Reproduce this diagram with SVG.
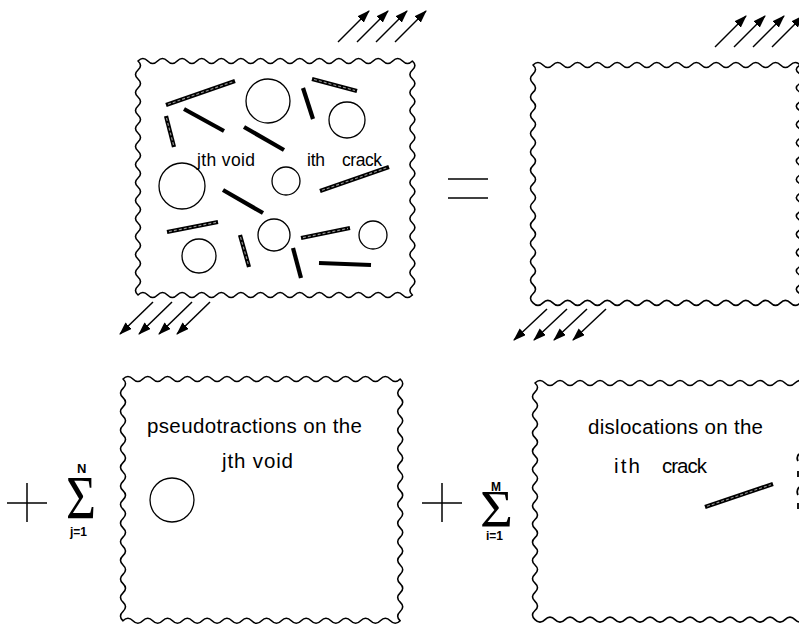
<svg xmlns="http://www.w3.org/2000/svg" width="799" height="627" viewBox="0 0 799 627">
<style>
.wave{fill:none;stroke:#000;stroke-width:1.6;stroke-linejoin:round}
.void{fill:none;stroke:#000;stroke-width:1.3}
.crk{stroke:#000;stroke-width:4.2;stroke-linecap:butt}
.hol{stroke:#999;stroke-width:1.1;stroke-dasharray:3 2}
.arr{stroke:#000;stroke-width:1.5;marker-end:url(#ah)}
.lbl{font-family:"Liberation Sans",Arial,sans-serif;fill:#000}
.sym{stroke:#000;stroke-width:1.5;fill:none}
.sig{font-family:"Liberation Serif","Times New Roman",serif;font-weight:normal}
.lim{font-family:"Liberation Sans",Arial,sans-serif;font-weight:bold}
</style>
<defs>
<marker id="ah" markerUnits="userSpaceOnUse" markerWidth="14" markerHeight="10" refX="12" refY="4.5" orient="auto">
<path d="M0,0 L13,4.5 L0,9 Z" fill="#000"/>
</marker>
</defs>

<g id="box1">
<path class="wave" d="M138,61 q4.9,-5 9.8,0 t9.8,0 t9.8,0 t9.8,0 t9.8,0 t9.8,0 t9.8,0 t9.8,0 t9.8,0 t9.8,0 t9.8,0 t9.8,0 t9.8,0 t9.8,0 t9.8,0 t9.8,0 t9.8,0 t9.8,0 t9.8,0 t9.8,0 t9.8,0 t9.8,0 t9.8,0 t9.8,0 t9.8,0 t9.8,0 t9.8,0 t9.8,0 q5,4.5 0,9 t0,9 t0,9 t0,9 t0,9 t0,9 t0,9 t0,9 t0,9 t0,9 t0,9 t0,9 t0,9 t0,9 t0,9 t0,9 t0,9 t0,9 t0,9 t0,9 t0,9 t0,9 t0,9 t0,9 t0,9 t0,9 q-4.9,5 -9.8,0 t-9.8,0 t-9.8,0 t-9.8,0 t-9.8,0 t-9.8,0 t-9.8,0 t-9.8,0 t-9.8,0 t-9.8,0 t-9.8,0 t-9.8,0 t-9.8,0 t-9.8,0 t-9.8,0 t-9.8,0 t-9.8,0 t-9.8,0 t-9.8,0 t-9.8,0 t-9.8,0 t-9.8,0 t-9.8,0 t-9.8,0 t-9.8,0 t-9.8,0 t-9.8,0 t-9.8,0 q-5,-4.5 0,-9 t0,-9 t0,-9 t0,-9 t0,-9 t0,-9 t0,-9 t0,-9 t0,-9 t0,-9 t0,-9 t0,-9 t0,-9 t0,-9 t0,-9 t0,-9 t0,-9 t0,-9 t0,-9 t0,-9 t0,-9 t0,-9 t0,-9 t0,-9 t0,-9 t0,-9 Z"/>
<circle class="void" cx="268" cy="101" r="22"/>
<circle class="void" cx="347" cy="120" r="18"/>
<circle class="void" cx="182" cy="186" r="23"/>
<circle class="void" cx="286" cy="181" r="14"/>
<circle class="void" cx="274" cy="235" r="16"/>
<circle class="void" cx="199" cy="256" r="17"/>
<circle class="void" cx="373" cy="235" r="14"/>
<line class="crk" x1="166" y1="105" x2="235" y2="81"/><line class="hol" x1="168" y1="104.3" x2="233" y2="81.7"/>
<line class="crk" x1="312" y1="79" x2="357" y2="91"/><line class="hol" x1="314" y1="79.5" x2="355" y2="90.5"/>
<line class="crk" x1="303" y1="88" x2="313" y2="119"/>
<line class="crk" x1="184" y1="109" x2="224" y2="131"/>
<line class="crk" x1="166" y1="116" x2="174" y2="147"/><line class="hol" x1="166.5" y1="118" x2="173.5" y2="145"/>
<line class="crk" x1="244" y1="127" x2="284" y2="150"/>
<line class="crk" x1="320" y1="191" x2="389" y2="167"/><line class="hol" x1="322" y1="190.3" x2="387" y2="167.7"/>
<line class="crk" x1="223" y1="190" x2="263" y2="213"/>
<line class="crk" x1="167" y1="232" x2="218" y2="222"/><line class="hol" x1="169" y1="231.6" x2="216" y2="222.4"/>
<line class="crk" x1="240" y1="235" x2="249" y2="267"/><line class="hol" x1="240.5" y1="237" x2="248.5" y2="265"/>
<line class="crk" x1="301" y1="238" x2="350" y2="228"/><line class="hol" x1="303" y1="237.6" x2="348" y2="228.4"/>
<line class="crk" x1="293" y1="248" x2="301" y2="278"/>
<line class="crk" x1="319" y1="263" x2="371" y2="265"/>
<text class="lbl" x="197" y="166" font-size="17.5" textLength="58">jth void</text>
<text class="lbl" x="307" y="166" font-size="17.5" textLength="18">ith</text>
<text class="lbl" x="342" y="166" font-size="17.5" textLength="40">crack</text>
</g>

<g id="equals">
<line class="sym" x1="448" y1="179" x2="488" y2="179"/>
<line class="sym" x1="448" y1="198" x2="488" y2="198"/>
</g>

<g id="box2">
<path class="wave" d="M533,65 q4.95,-5 9.9,0 t9.9,0 t9.9,0 t9.9,0 t9.9,0 t9.9,0 t9.9,0 t9.9,0 t9.9,0 t9.9,0 t9.9,0 t9.9,0 t9.9,0 t9.9,0 t9.9,0 t9.9,0 t9.9,0 t9.9,0 t9.9,0 t9.9,0 t9.9,0 t9.9,0 t9.9,0 t9.9,0 t9.9,0 t9.9,0 t9.9,0 q-8,4.6 0,9.15 t0,9.15 t0,9.15 t0,9.15 t0,9.15 t0,9.15 t0,9.15 t0,9.15 t0,9.15 t0,9.15 t0,9.15 t0,9.15 t0,9.15 t0,9.15 t0,9.15 t0,9.15 t0,9.15 t0,9.15 t0,9.15 t0,9.15 t0,9.15 t0,9.15 t0,9.15 t0,9.15 t0,9.15 t0,9.15 q-4.95,5 -9.9,0 t-9.9,0 t-9.9,0 t-9.9,0 t-9.9,0 t-9.9,0 t-9.9,0 t-9.9,0 t-9.9,0 t-9.9,0 t-9.9,0 t-9.9,0 t-9.9,0 t-9.9,0 t-9.9,0 t-9.9,0 t-9.9,0 t-9.9,0 t-9.9,0 t-9.9,0 t-9.9,0 t-9.9,0 t-9.9,0 t-9.9,0 t-9.9,0 t-9.9,0 t-9.9,0 q-5,-4.6 0,-9.15 t0,-9.15 t0,-9.15 t0,-9.15 t0,-9.15 t0,-9.15 t0,-9.15 t0,-9.15 t0,-9.15 t0,-9.15 t0,-9.15 t0,-9.15 t0,-9.15 t0,-9.15 t0,-9.15 t0,-9.15 t0,-9.15 t0,-9.15 t0,-9.15 t0,-9.15 t0,-9.15 t0,-9.15 t0,-9.15 t0,-9.15 t0,-9.15 t0,-9.15 Z"/>
</g>

<g id="plus1">
<line class="sym" x1="7" y1="503" x2="47" y2="503"/>
<line class="sym" x1="27" y1="483" x2="27" y2="522"/>
<text fill="#000"><tspan class="lim" x="77" y="473" font-size="13">N</tspan><tspan class="sig" x="66" y="518" font-size="62" textLength="30" lengthAdjust="spacingAndGlyphs">Σ</tspan><tspan class="lim" x="70" y="536" font-size="12">j=1</tspan></text>
</g>

<g id="box3">
<path class="wave" d="M123,379 q4.95,-5 9.9,0 t9.9,0 t9.9,0 t9.9,0 t9.9,0 t9.9,0 t9.9,0 t9.9,0 t9.9,0 t9.9,0 t9.9,0 t9.9,0 t9.9,0 t9.9,0 t9.9,0 t9.9,0 t9.9,0 t9.9,0 t9.9,0 t9.9,0 t9.9,0 t9.9,0 t9.9,0 t9.9,0 t9.9,0 t9.9,0 t9.9,0 t9.9,0 q5,4.65 0,9.3 t0,9.3 t0,9.3 t0,9.3 t0,9.3 t0,9.3 t0,9.3 t0,9.3 t0,9.3 t0,9.3 t0,9.3 t0,9.3 t0,9.3 t0,9.3 t0,9.3 t0,9.3 t0,9.3 t0,9.3 t0,9.3 t0,9.3 t0,9.3 t0,9.3 t0,9.3 t0,9.3 t0,9.3 t0,9.3 q-4.95,5 -9.9,0 t-9.9,0 t-9.9,0 t-9.9,0 t-9.9,0 t-9.9,0 t-9.9,0 t-9.9,0 t-9.9,0 t-9.9,0 t-9.9,0 t-9.9,0 t-9.9,0 t-9.9,0 t-9.9,0 t-9.9,0 t-9.9,0 t-9.9,0 t-9.9,0 t-9.9,0 t-9.9,0 t-9.9,0 t-9.9,0 t-9.9,0 t-9.9,0 t-9.9,0 t-9.9,0 t-9.9,0 q-5,-4.65 0,-9.3 t0,-9.3 t0,-9.3 t0,-9.3 t0,-9.3 t0,-9.3 t0,-9.3 t0,-9.3 t0,-9.3 t0,-9.3 t0,-9.3 t0,-9.3 t0,-9.3 t0,-9.3 t0,-9.3 t0,-9.3 t0,-9.3 t0,-9.3 t0,-9.3 t0,-9.3 t0,-9.3 t0,-9.3 t0,-9.3 t0,-9.3 t0,-9.3 t0,-9.3 Z"/>
<text class="lbl" x="147" y="433" font-size="20.5" textLength="215">pseudotractions on the</text>
<text class="lbl" x="222" y="468" font-size="20.5" textLength="71">jth void</text>
<circle class="void" cx="172" cy="500" r="22"/>
</g>

<g id="plus2">
<line class="sym" x1="422" y1="503" x2="462" y2="503"/>
<line class="sym" x1="442" y1="483" x2="442" y2="522"/>
<text fill="#000"><tspan class="lim" x="491" y="491" font-size="12">M</tspan><tspan class="sig" x="480" y="527" font-size="53" textLength="33" lengthAdjust="spacingAndGlyphs">Σ</tspan><tspan class="lim" x="486" y="540" font-size="12">i=1</tspan></text>
</g>

<g id="box4">
<path class="wave" d="M535,383 q5,-5 10,0 t10,0 t10,0 t10,0 t10,0 t10,0 t10,0 t10,0 t10,0 t10,0 t10,0 t10,0 t10,0 t10,0 t10,0 t10,0 t10,0 t10,0 t10,0 t10,0 t10,0 t10,0 t10,0 t10,0 t10,0 t10,0 t10,0 q5,4.55 0,9.1 t0,9.1 t0,9.1 t0,9.1 t0,9.1 t0,9.1 t0,9.1 t0,9.1 t0,9.1 t0,9.1 t0,9.1 t0,9.1 t0,9.1 t0,9.1 t0,9.1 t0,9.1 t0,9.1 t0,9.1 t0,9.1 t0,9.1 t0,9.1 t0,9.1 t0,9.1 t0,9.1 t0,9.1 t0,9.1 q-5,5 -10,0 t-10,0 t-10,0 t-10,0 t-10,0 t-10,0 t-10,0 t-10,0 t-10,0 t-10,0 t-10,0 t-10,0 t-10,0 t-10,0 t-10,0 t-10,0 t-10,0 t-10,0 t-10,0 t-10,0 t-10,0 t-10,0 t-10,0 t-10,0 t-10,0 t-10,0 t-10,0 q-5,-4.55 0,-9.1 t0,-9.1 t0,-9.1 t0,-9.1 t0,-9.1 t0,-9.1 t0,-9.1 t0,-9.1 t0,-9.1 t0,-9.1 t0,-9.1 t0,-9.1 t0,-9.1 t0,-9.1 t0,-9.1 t0,-9.1 t0,-9.1 t0,-9.1 t0,-9.1 t0,-9.1 t0,-9.1 t0,-9.1 t0,-9.1 t0,-9.1 t0,-9.1 t0,-9.1 Z"/>
<text class="lbl" x="588" y="434" font-size="20.5" textLength="175">dislocations on the</text>
<text class="lbl" x="614" y="473" font-size="20.5" textLength="26">ith</text>
<text class="lbl" x="662" y="473" font-size="20.5" textLength="45">crack</text>
<line class="crk" x1="705" y1="507" x2="773" y2="484"/><line class="hol" x1="707" y1="506.3" x2="771" y2="484.7"/>
<path d="M799,454 q-3,3 -1,7 M798,471 v6 M799,487 q-3,4 -1,8 M798,503 v6" stroke="#000" stroke-width="1.8" fill="none"/>
</g>

<g id="connectors">
<line class="arr" x1="338" y1="42" x2="369" y2="11"/>
<line class="arr" x1="357" y1="42" x2="388" y2="11"/>
<line class="arr" x1="376" y1="42" x2="407" y2="11"/>
<line class="arr" x1="395" y1="42" x2="426" y2="11"/>
<line class="arr" x1="153" y1="302" x2="120" y2="334"/>
<line class="arr" x1="172" y1="302" x2="139" y2="334"/>
<line class="arr" x1="192" y1="302" x2="159" y2="334"/>
<line class="arr" x1="210" y1="302" x2="177" y2="334"/>
<line class="arr" x1="715" y1="47" x2="746" y2="16"/>
<line class="arr" x1="734" y1="47" x2="765" y2="16"/>
<line class="arr" x1="753" y1="47" x2="784" y2="16"/>
<line class="arr" x1="772" y1="47" x2="803" y2="16"/>
<line class="arr" x1="547" y1="309" x2="514" y2="340"/>
<line class="arr" x1="567" y1="309" x2="534" y2="340"/>
<line class="arr" x1="587" y1="309" x2="554" y2="340"/>
<line class="arr" x1="606" y1="309" x2="573" y2="340"/>
</g>
</svg>
